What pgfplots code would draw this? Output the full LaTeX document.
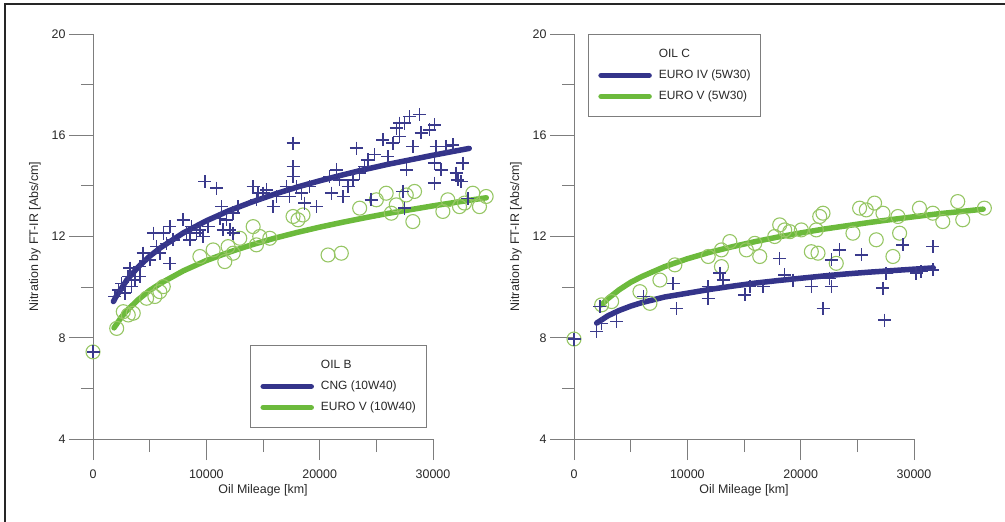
\documentclass[border=0pt]{standalone}
\usepackage{fontspec}
\setmainfont{Liberation Sans}
\usepackage{pgfplots}
\pgfplotsset{compat=1.18}
\definecolor{fitblue}{RGB}{52,52,138}
\definecolor{ptblue}{RGB}{58,58,140}
\definecolor{fitgreen}{RGB}{108,186,60}
\definecolor{ptgreen}{RGB}{150,198,100}
\definecolor{axgray}{RGB}{125,125,125}
\definecolor{txt}{RGB}{40,40,40}

\pgfplotsset{
  myaxis/.style={
    scale only axis, width=340bp, height=405bp,
    xmin=0, xmax=30000, ymin=4, ymax=20,
    clip=false,
    axis lines=left,
    axis line style={-, axgray, line width=0.9bp},
    tick align=outside,
    major tick length=24bp, minor tick length=12bp,
    xtick style={/pgfplots/major tick length=21bp, /pgfplots/minor tick length=13bp},
    tick style={axgray, line width=0.9bp},
    scaled x ticks=false, scaled y ticks=false,
    xtick={0,10000,20000,30000},
    xticklabels={0,10000,20000,30000},
    minor xtick={5000,15000,25000},
    ytick={4,8,12,16,20},
    yticklabels={4,8,12,16,20},
    minor ytick={6,10,14,18},
    tick label style={font=\fontsize{12.5}{14}\selectfont, text=txt},
    xticklabel style={yshift=-3bp},
    every axis x label/.style={at={(axis description cs:0.5,-0.126)}, anchor=center, font=\fontsize{12.5}{14}\selectfont, text=txt},
    every axis y label/.style={at={(axis description cs:-0.1706,0.5)}, anchor=center, rotate=90, font=\fontsize{12.5}{14}\selectfont, text=txt},
    xlabel={Oil Mileage [km]},
    ylabel={Nitration by FT-IR [Abs/cm]},
    legend cell align=left,
    legend image code/.code={\draw[#1] (0bp,0bp) -- (48bp,0bp);},
    legend style={draw=axgray, line width=0.8bp, fill=white,
      font=\fontsize{12}{14}\selectfont, text=txt,
      inner xsep=10bp, inner ysep=14bp, row sep=9bp,
      nodes={inner sep=0pt, text height=9bp, text depth=3bp},
      /tikz/every odd column/.append style={column sep=7bp}},
  },
  plusmk/.style={only marks, mark=+, mark size=6.5bp, mark options={ptblue, line width=1.5bp}},
  circmk/.style={only marks, mark=o, mark size=7bp, mark options={ptgreen, line width=1.1bp}},
  fitb/.style={no marks, fitblue, line width=5.5bp, line cap=round},
  fitg/.style={no marks, fitgreen, line width=5.5bp, line cap=round},
}

\begin{document}
\begin{tikzpicture}
\useasboundingbox (0,0) rectangle (1005bp,522bp);
\draw[line width=2bp, black!85] (5bp,-2bp) -- (5bp,518bp) -- (1007bp,518bp);

% ---------------- Left panel: OIL B ----------------
\begin{axis}[myaxis, at={(93bp,83bp)}, anchor=south west,
  legend style={at={(0.462,0.232)}, anchor=north west}]
\addlegendimage{empty legend}
\addlegendentry{OIL B}
\addplot[circmk, forget plot] coordinates {
(0,7.44)(2090,8.37)(2670,9.03)(3110,8.90)(3550,8.97)(4730,9.56)(5460,9.63)(6200,10.02)(5900,9.82)(9430,11.21)(10600,11.47)(11630,11.01)(11920,11.60)(12370,11.34)(12950,11.93)(14130,12.39)(14420,11.67)(14710,12.00)(15600,11.93)(17650,12.79)(18090,12.66)(18530,12.85)(20740,11.27)(21910,11.34)(23530,13.12)(25000,13.45)(25870,13.71)(26320,12.92)(26760,13.25)(27640,13.64)(28370,13.78)(28220,12.59)(30870,12.99)(31310,13.45)(32340,13.18)(33510,13.71)(34100,13.18)(34690,13.58)(32780,13.32)
};
\addplot[plusmk, forget plot] coordinates {
(0,7.44)(1940,9.63)(2230,9.89)(2530,10.15)(2820,9.76)(3110,10.42)(3260,10.75)(3410,10.02)(3700,10.28)(4140,10.42)(4140,10.81)(4430,11.34)(5020,11.08)(5320,12.13)(5610,11.60)(5900,11.34)(6200,12.13)(6490,11.73)(6780,12.39)(6780,10.94)(7080,11.87)(7960,12.66)(8250,12.13)(8550,11.87)(8690,12.39)(9130,12.13)(9430,12.26)(9720,12.00)(9870,14.17)(10160,12.39)(10900,13.91)(11190,12.72)(11340,13.18)(11480,12.26)(11780,12.66)(12070,12.26)(12370,12.92)(12370,12.13)(12800,13.18)(14130,13.97)(14420,13.45)(14570,13.71)(15010,13.71)(15300,13.84)(15890,13.18)(16180,13.58)(17060,13.97)(17360,13.58)(17650,15.69)(17650,14.76)(17650,14.37)(17950,13.97)(18390,13.71)(18680,13.32)(19120,13.97)(19710,13.18)(20880,14.37)(21030,13.71)(21470,14.63)(21760,14.24)(22060,13.58)(22500,13.97)(22940,14.24)(23230,15.49)(23530,14.50)(23970,14.76)(24260,15.03)(24550,13.45)(24850,15.23)(25580,15.82)(26020,15.16)(26460,15.69)(26760,16.28)(27050,15.95)(27050,16.48)(27490,16.48)(27640,14.63)(27340,13.78)(27490,13.12)(27930,16.74)(28220,15.56)(28810,16.81)(28960,16.09)(29690,16.21)(30130,16.41)(30280,15.56)(30130,14.90)(30130,14.11)(30720,14.63)(31160,15.56)(31750,15.62)(32040,14.50)(32190,14.24)(32630,14.90)(33070,13.51)(32480,14.17)
};
\addplot[fitb] coordinates {
(1800,9.43)(2000,9.60)(3000,10.29)(4000,10.80)(5000,11.22)(6000,11.57)(8000,12.15)(10000,12.62)(12000,13.02)(14000,13.36)(16000,13.67)(18000,13.95)(20000,14.20)(22000,14.43)(24000,14.65)(26000,14.85)(28000,15.03)(30000,15.21)(32000,15.38)(33200,15.48)
};
\addlegendentry{CNG (10W40)}
\addplot[fitg] coordinates {
(1850,8.39)(2500,8.81)(3000,9.08)(4000,9.51)(5000,9.87)(6000,10.16)(8000,10.65)(10000,11.05)(12000,11.38)(14000,11.67)(16000,11.93)(18000,12.16)(20000,12.37)(22000,12.56)(24000,12.74)(26000,12.91)(28000,13.06)(30000,13.21)(32000,13.35)(34700,13.53)
};
\addlegendentry{EURO V (10W40)}
\end{axis}

% ---------------- Right panel: OIL C ----------------
\begin{axis}[myaxis, at={(574bp,83bp)}, anchor=south west,
  legend style={at={(0.041,1.0)}, anchor=north west}]
\addlegendimage{empty legend}
\addlegendentry{OIL C}
\addplot[circmk, forget plot] coordinates {
(0,7.95)(2440,9.30)(3320,9.43)(5820,9.82)(6700,9.36)(7580,10.28)(8900,10.88)(11840,11.21)(13010,11.47)(13750,11.80)(13010,10.81)(15210,11.47)(15950,11.73)(16390,11.21)(17710,12.00)(18150,12.46)(18590,12.26)(19040,12.19)(20060,12.26)(20940,11.40)(21530,11.34)(21680,12.79)(21970,12.92)(21380,12.26)(23140,10.94)(24610,12.13)(25200,13.12)(25790,13.05)(26520,13.32)(26670,11.87)(27260,12.92)(28140,11.21)(28730,12.13)(28580,12.79)(30480,13.12)(31660,12.92)(32540,12.59)(33860,13.38)(34300,12.66)(36210,13.12)
};
\addplot[plusmk, forget plot] coordinates {
(0,7.95)(2000,8.24)(2290,9.23)(2440,8.57)(3760,8.64)(6110,9.63)(8750,10.15)(9050,9.16)(11840,9.56)(11840,10.02)(12860,10.55)(13160,10.28)(15070,9.69)(15510,10.02)(16680,10.02)(18150,11.14)(18590,10.48)(19330,10.28)(20940,10.02)(21970,9.16)(22560,10.35)(22700,10.02)(22700,11.08)(23440,11.47)(25350,11.27)(27260,9.96)(27400,8.70)(27550,10.55)(29020,11.67)(30190,10.55)(30630,10.61)(31660,11.60)(31660,10.68)
};
\addplot[fitb] coordinates {
(2000,8.58)(3000,8.87)(4000,9.08)(5000,9.25)(6000,9.39)(8000,9.61)(10000,9.76)(12000,9.91)(14000,10.04)(16000,10.16)(18000,10.26)(20000,10.35)(22000,10.44)(24000,10.52)(26000,10.59)(28000,10.65)(30000,10.71)(31700,10.76)
};
\addlegendentry{EURO IV (5W30)}
\addplot[fitg] coordinates {
(2440,9.30)(3000,9.55)(4000,9.90)(5000,10.19)(6000,10.42)(8000,10.81)(10000,11.12)(12000,11.38)(14000,11.60)(16000,11.80)(18000,11.98)(20000,12.14)(22000,12.29)(24000,12.42)(26000,12.55)(28000,12.67)(30000,12.78)(32000,12.89)(34000,12.98)(36100,13.08)
};
\addlegendentry{EURO V (5W30)}
\end{axis}
\end{tikzpicture}
\end{document}
